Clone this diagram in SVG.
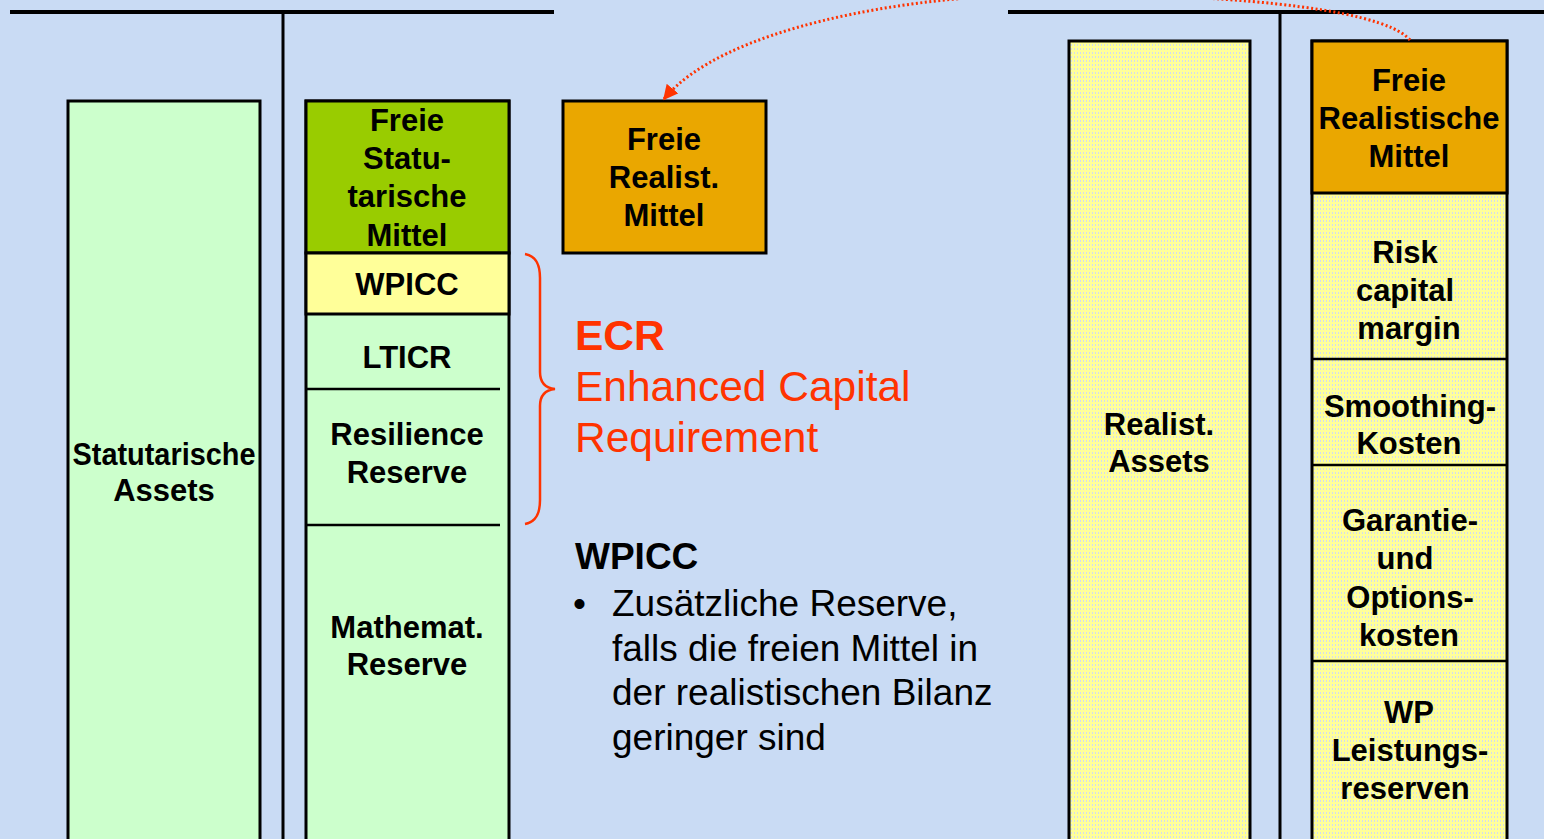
<svg xmlns="http://www.w3.org/2000/svg" width="1544" height="839" viewBox="0 0 1544 839">
  <defs>
    <pattern id="dots" width="3" height="4" patternUnits="userSpaceOnUse">
      <rect width="3" height="4" fill="#FFFF99"/>
      <rect x="0" y="0" width="1" height="2" fill="#D2DCEE"/>
    </pattern>
    <marker id="arrow" viewBox="0 0 10 10" refX="9" refY="5" markerWidth="5" markerHeight="5" orient="auto" markerUnits="strokeWidth">
      <path d="M0,0 L10,5 L0,10 Z" fill="#FF3300"/>
    </marker>
  </defs>
  <style>
    .box { stroke: #000; stroke-width: 3; }
    .sep { stroke: #000; stroke-width: 2.5; fill: none; }
    .axis { stroke: #000; fill: none; }
    .lbl { font-family: "Liberation Sans", Arial, sans-serif; font-weight: bold; font-size: 31px; fill: #000; text-anchor: middle; }
    .red { font-family: "Liberation Sans", Arial, sans-serif; font-size: 42.5px; fill: #FF3300; }
    .body { font-family: "Liberation Sans", Arial, sans-serif; font-size: 37px; fill: #000; }
  </style>

  <!-- page background -->
  <rect width="1544" height="839" fill="#C9DBF4"/>

  <!-- statutory balance sheet axes -->
  <g id="axes-statutory">
    <line class="axis" x1="10" y1="12" x2="554" y2="12" stroke-width="4"/>
    <line class="axis" x1="283" y1="12" x2="283" y2="839" stroke-width="3"/>
  </g>

  <!-- realistic balance sheet axes -->
  <g id="axes-realistic">
    <line class="axis" x1="1008" y1="12" x2="1544" y2="12" stroke-width="4"/>
    <line class="axis" x1="1280" y1="12" x2="1280" y2="839" stroke-width="3"/>
  </g>

  <!-- statutory assets -->
  <g id="statutarische-assets">
    <rect class="box" x="68" y="101" width="192" height="760" fill="#CCFFCC"/>
    <text class="lbl" x="164" y="465" textLength="183" lengthAdjust="spacingAndGlyphs">Statutarische</text>
    <text class="lbl" x="164" y="501">Assets</text>
  </g>

  <!-- statutory liabilities column -->
  <g id="statutarische-passiva">
    <rect class="box" x="306" y="101" width="203" height="760" fill="#CCFFCC"/>
  </g>

  <g id="freie-statutarische-mittel">
    <rect class="box" x="306" y="101" width="203" height="152" fill="#99CC00"/>
    <text class="lbl" x="407" y="131">Freie</text>
    <text class="lbl" x="407" y="169">Statu-</text>
    <text class="lbl" x="407" y="207">tarische</text>
    <text class="lbl" x="407" y="246">Mittel</text>
  </g>

  <g id="wpicc">
    <rect class="box" x="306" y="253" width="203" height="61" fill="#FFFF99"/>
    <text class="lbl" x="407" y="295">WPICC</text>
  </g>

  <g id="lticr">
    <line class="sep" x1="306" y1="389" x2="500" y2="389"/>
    <text class="lbl" x="407" y="368">LTICR</text>
  </g>

  <g id="resilience-reserve">
    <line class="sep" x1="306" y1="525" x2="500" y2="525"/>
    <text class="lbl" x="407" y="445">Resilience</text>
    <text class="lbl" x="407" y="483">Reserve</text>
  </g>

  <g id="mathemat-reserve">
    <text class="lbl" x="407" y="638">Mathemat.</text>
    <text class="lbl" x="407" y="675">Reserve</text>
  </g>

  <!-- free realistic capital carried over -->
  <g id="freie-realist-mittel">
    <rect class="box" x="563" y="101" width="203" height="152" fill="#EAA700"/>
    <text class="lbl" x="664" y="150">Freie</text>
    <text class="lbl" x="664" y="188">Realist.</text>
    <text class="lbl" x="664" y="226">Mittel</text>
  </g>

  <!-- ECR brace and caption -->
  <g id="ecr">
    <path d="M525,254 C536,256 540,264 540,278 L540,372 C540,382 545,388 555,389 C545,390 540,396 540,406 L540,500 C540,514 536,522 525,524" fill="none" stroke="#FF3300" stroke-width="2.5"/>
    <text class="red" x="575" y="350" font-weight="bold">ECR</text>
    <text class="red" x="575" y="401">Enhanced Capital</text>
    <text class="red" x="575" y="452">Requirement</text>
  </g>

  <!-- WPICC explanation -->
  <g id="wpicc-note">
    <text class="body" x="575" y="569" font-weight="bold">WPICC</text>
    <text class="body" x="573" y="616">•</text>
    <text class="body" x="612" y="616">Zusätzliche Reserve,</text>
    <text class="body" x="612" y="661">falls die freien Mittel in</text>
    <text class="body" x="612" y="705">der realistischen Bilanz</text>
    <text class="body" x="612" y="750">geringer sind</text>
  </g>

  <!-- realistic assets -->
  <g id="realist-assets">
    <rect class="box" x="1069" y="41" width="181" height="820" fill="url(#dots)"/>
    <text class="lbl" x="1159" y="435">Realist.</text>
    <text class="lbl" x="1159" y="472">Assets</text>
  </g>

  <!-- realistic liabilities column -->
  <g id="realist-passiva">
    <rect class="box" x="1312" y="41" width="195" height="820" fill="url(#dots)"/>
  </g>

  <g id="freie-realistische-mittel">
    <rect class="box" x="1312" y="41" width="195" height="152" fill="#EAA700"/>
    <text class="lbl" x="1409" y="91">Freie</text>
    <text class="lbl" x="1409" y="129">Realistische</text>
    <text class="lbl" x="1409" y="167">Mittel</text>
  </g>

  <g id="risk-capital-margin">
    <line class="sep" x1="1312" y1="359" x2="1507" y2="359"/>
    <text class="lbl" x="1405" y="263">Risk</text>
    <text class="lbl" x="1405" y="301">capital</text>
    <text class="lbl" x="1409" y="339">margin</text>
  </g>

  <g id="smoothing-kosten">
    <line class="sep" x1="1312" y1="465" x2="1507" y2="465"/>
    <text class="lbl" x="1410" y="417">Smoothing-</text>
    <text class="lbl" x="1409" y="454">Kosten</text>
  </g>

  <g id="garantie-optionskosten">
    <line class="sep" x1="1312" y1="661" x2="1507" y2="661"/>
    <text class="lbl" x="1410" y="531">Garantie-</text>
    <text class="lbl" x="1405" y="569">und</text>
    <text class="lbl" x="1410" y="608">Options-</text>
    <text class="lbl" x="1409" y="646">kosten</text>
  </g>

  <g id="wp-leistungsreserven">
    <text class="lbl" x="1409" y="723">WP</text>
    <text class="lbl" x="1410" y="761">Leistungs-</text>
    <text class="lbl" x="1405" y="799">reserven</text>
  </g>

  <!-- transfer of free realistic capital -->
  <g id="connectors">
    <path d="M1410,40 C1380,5 1200,-6 1060,-6 C900,-6 720,30 664,99" fill="none" stroke="#FF3300" stroke-width="3" stroke-dasharray="2 2.5" marker-end="url(#arrow)"/>
  </g>
</svg>
